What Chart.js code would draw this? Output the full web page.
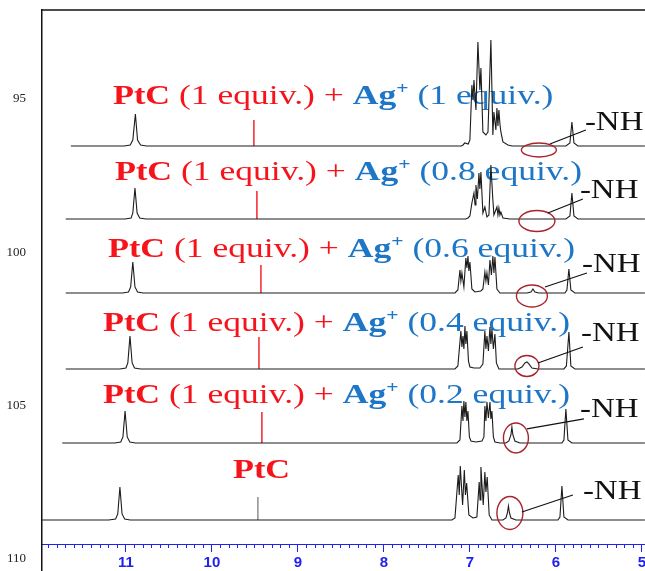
<!DOCTYPE html>
<html>
<head>
<meta charset="utf-8">
<script src="https://cdn.jsdelivr.net/npm/chart.js@4.4.1/dist/chart.umd.min.js"></script>
<style>
  body { margin: 0; background: #fff; }
  canvas { display: block; }
</style>
</head>
<body>
<canvas id="nmr" width="645" height="571"></canvas>
<script>
// equivalents of Ag+ added to PtC (null = PtC alone)
var equivs = ['1', '0.8', '0.6', '0.4', '0.2', null];

// offsets of each trace on the left (stack) axis
var baselines = [96.532, 98.913, 101.325, 103.803, 106.216, 108.727];

// red marker position (ppm) and height (a.u.)
var markShifts = [9.512, 9.477, 9.43, 9.453, 9.419, 9.465];
var markHeights = [26, 28, 28, 32, 31, 23];

// circled -NH signal (ppm)
var nhShifts = [6.198, 6.221, 6.279, 6.337, 6.465, 6.535];

// traces: [ppm, intensity a.u.]
var ag10 = [
  [11.64, 0], [11.02, 0], [10.95, 1], [10.92, 6], [10.89, 32], [10.865, 6], [10.83, 1], [10.76, 0],
  [7.10, 0], [7.08, 1], [7.06, 3], [7.02, 2], [7.00, 6], [6.977, 61], [6.965, 46], [6.953, 66], [6.93, 36],
  [6.907, 104], [6.884, 56], [6.872, 78], [6.849, 14], [6.814, 11], [6.79, 14], [6.756, 106], [6.733, 11],
  [6.721, 34], [6.698, 16], [6.686, 38], [6.674, 20], [6.663, 36], [6.651, 22], [6.64, 14], [6.616, 4],
  [6.558, 1], [6.51, 0],
  [5.884, 0], [5.837, 3], [5.814, 24], [5.79, 3], [5.744, 0], [4.965, 0]
];
var ag08 = [
  [11.70, 0], [11.01, 0], [10.94, 1], [10.92, 6], [10.895, 31], [10.87, 6], [10.84, 1], [10.77, 0],
  [7.05, 0], [7.023, 1], [7.0, 3], [6.977, 16], [6.953, 26], [6.94, 14], [6.93, 34], [6.913, 20], [6.895, 46],
  [6.884, 30], [6.872, 47], [6.849, 6], [6.826, 12], [6.802, 2], [6.779, 4], [6.756, 54], [6.733, 19],
  [6.721, 4], [6.686, 12], [6.674, 4], [6.663, 11], [6.651, 4], [6.64, 7], [6.616, 1], [6.535, 0],
  [5.884, 0], [5.837, 3], [5.814, 26], [5.79, 3], [5.744, 0], [4.965, 0]
];
var ag06 = [
  [11.70, 0], [11.04, 0], [10.97, 1], [10.945, 6], [10.92, 31], [10.895, 6], [10.865, 1], [10.80, 0],
  [7.174, 0], [7.14, 3], [7.116, 23], [7.105, 12], [7.093, 20], [7.07, 6], [7.047, 35], [7.035, 25],
  [7.023, 37], [7.012, 22], [7.0, 31], [6.977, 4], [6.942, 1], [6.872, 2], [6.849, 4], [6.826, 21],
  [6.814, 12], [6.802, 20], [6.785, 8], [6.767, 33], [6.75, 18], [6.733, 37], [6.721, 20], [6.709, 36],
  [6.686, 4], [6.651, 0],
  [6.337, 0], [6.29, 1], [6.267, 4], [6.244, 1], [6.198, 0],
  [5.895, 0], [5.872, 3], [5.849, 24], [5.826, 3], [5.779, 0], [4.965, 0]
];
var ag04 = [
  [11.70, 0], [11.07, 0], [11.0, 1], [10.978, 6], [10.953, 33], [10.928, 6], [10.9, 1], [10.83, 0],
  [7.174, 0], [7.14, 3], [7.105, 38], [7.093, 22], [7.081, 33], [7.07, 20], [7.058, 43], [7.047, 25],
  [7.035, 38], [7.017, 8], [7.0, 2], [6.953, 1], [6.884, 1], [6.849, 5], [6.826, 38], [6.814, 20],
  [6.802, 33], [6.785, 18], [6.767, 42], [6.756, 25], [6.744, 40], [6.727, 20], [6.709, 35], [6.692, 6],
  [6.663, 0],
  [6.442, 0], [6.395, 2], [6.36, 6], [6.337, 7], [6.314, 5], [6.279, 1], [6.209, 0],
  [5.907, 0], [5.878, 3], [5.849, 37], [5.826, 3], [5.779, 0], [4.965, 0]
];
var ag02 = [
  [11.74, 0], [11.13, 0], [11.06, 1], [11.035, 6], [11.01, 32], [10.985, 6], [10.955, 1], [10.89, 0],
  [7.151, 0], [7.116, 3], [7.093, 37], [7.081, 22], [7.07, 42], [7.058, 26], [7.047, 41], [7.035, 22],
  [7.023, 32], [7.006, 6], [6.988, 2], [6.93, 1], [6.86, 2], [6.837, 6], [6.826, 37], [6.814, 22],
  [6.802, 41], [6.785, 25], [6.767, 41], [6.756, 24], [6.744, 32], [6.727, 6], [6.709, 1], [6.651, 0],
  [6.581, 0], [6.547, 2], [6.523, 8], [6.512, 16], [6.5, 8], [6.477, 2], [6.419, 0],
  [5.93, 0], [5.907, 3], [5.884, 34], [5.86, 3], [5.814, 0], [4.965, 0]
];
var ptc = [
  [11.976, 0], [11.2, 0], [11.12, 1], [11.095, 6], [11.07, 33], [11.045, 6], [11.015, 1], [10.95, 0],
  [7.209, 0], [7.174, 2], [7.136, 45], [7.124, 25], [7.112, 54], [7.085, 15], [7.065, 50], [7.052, 25],
  [7.038, 37], [7.012, 5], [6.965, 2], [6.919, 3], [6.892, 38], [6.882, 20], [6.872, 53], [6.845, 15],
  [6.826, 48], [6.814, 28], [6.799, 43], [6.776, 5], [6.744, 0],
  [6.616, 0], [6.581, 2], [6.564, 7], [6.552, 14], [6.54, 7], [6.523, 2], [6.465, 0],
  [5.977, 0], [5.953, 3], [5.93, 34], [5.907, 3], [5.86, 0], [4.965, 0]
];
var traces = [ag10, ag08, ag06, ag04, ag02, ptc];

var stackTicks = [95, 100, 105, 110];
var ppmTicks = [11, 10, 9, 8, 7, 6, 5];

// display constants
var gain = 1 / 30.67;
var RED = '#f5141b';
var BLUE = '#1d76c6';
var AXISBLUE = '#2020f0';
var SERIF = "'Liberation Serif', 'DejaVu Serif', serif";
var STRETCH = 1.27;

// label placement (px): left x, height above baseline
var labelX = [113, 115, 108, 103, 103, 233];
var labelUp = [42, 39, 36, 38, 40, 42];
// ellipse / connector / text offsets (px) around the circled signal
var nhBox = [
  { dy: 4, rx: 17.5, ry: 7, l: [11, -6, 47, -20], t: [46, -20] },
  { dy: 2, rx: 18, ry: 10.5, l: [11, -8, 46, -22], t: [43, -23] },
  { dy: 3, rx: 15.5, ry: 11, l: [13, -9, 55, -23], t: [50, -24] },
  { dy: -3, rx: 12, ry: 10.5, l: [11, -3, 56, -19], t: [54, -25] },
  { dy: -5, rx: 12.5, ry: 15, l: [11, -9, 68, -19], t: [64, -21] },
  { dy: -7, rx: 13, ry: 16.5, l: [12, -1, 63, -18], t: [73, -14] }
];

var datasets = [];
traces.forEach(function (tr, i) {
  datasets.push({
    data: tr.map(function (p) { return { x: p[0], y: baselines[i] - p[1] * gain }; }),
    borderColor: '#1c1c1c',
    borderWidth: 1.1,
    pointRadius: 0,
    showLine: true,
    tension: 0
  });
  datasets.push({
    data: [
      { x: markShifts[i], y: baselines[i] },
      { x: markShifts[i], y: baselines[i] - markHeights[i] * gain }
    ],
    borderColor: i == 5 ? '#555' : RED,
    borderWidth: i == 5 ? 1 : 1.4,
    pointRadius: 0,
    showLine: true
  });
});

function drawPieces(ctx, x, y, pieces, stretch) {
  ctx.save();
  ctx.translate(x, y);
  ctx.scale(stretch || STRETCH, 1);
  ctx.textBaseline = 'alphabetic';
  ctx.textAlign = 'left';
  var cx = 0;
  pieces.forEach(function (p) {
    ctx.font = p.font;
    ctx.fillStyle = p.color;
    ctx.fillText(p.text, cx, p.dy || 0);
    cx += ctx.measureText(p.text).width;
  });
  ctx.restore();
}

// stop the axes from pushing the plot area in
function noPadding(s) {
  s.paddingTop = 0; s.paddingBottom = 0; s.paddingLeft = 0; s.paddingRight = 0;
}

var annotations = {
  id: 'annotations',
  beforeDatasetsDraw: function (chart) {
    var ctx = chart.ctx;
    var ys = chart.scales.y;
    equivs.forEach(function (eq, i) {
      var by = ys.getPixelForValue(baselines[i]) - labelUp[i];
      var pieces = [{ text: 'PtC', font: 'bold 27px ' + SERIF, color: RED }];
      if (eq) {
        pieces.push({ text: ' (1 equiv.) + ', font: '28px ' + SERIF, color: RED });
        pieces.push({ text: 'Ag', font: 'bold 28px ' + SERIF, color: BLUE });
        pieces.push({ text: '+', font: 'bold 17px ' + SERIF, color: BLUE, dy: -10 });
        pieces.push({ text: ' (' + eq + ' equiv.)', font: '28px ' + SERIF, color: BLUE });
      }
      drawPieces(ctx, labelX[i], by, pieces);
    });
  },
  afterDatasetsDraw: function (chart) {
    var ctx = chart.ctx;
    var xs = chart.scales.x, ys = chart.scales.y;
    var a = chart.chartArea;
    nhShifts.forEach(function (s, i) {
      var b = nhBox[i];
      var cx = xs.getPixelForValue(s);
      var cy = ys.getPixelForValue(baselines[i]) + b.dy;
      ctx.save();
      ctx.strokeStyle = '#a8242c';
      ctx.lineWidth = 1.4;
      ctx.beginPath();
      ctx.ellipse(cx, cy, b.rx, b.ry, 0, 0, Math.PI * 2);
      ctx.stroke();
      ctx.strokeStyle = '#111';
      ctx.lineWidth = 1.2;
      ctx.beginPath();
      ctx.moveTo(cx + b.l[0], cy + b.l[1]);
      ctx.lineTo(cx + b.l[2], cy + b.l[3]);
      ctx.stroke();
      ctx.restore();
      drawPieces(ctx, cx + b.t[0], cy + b.t[1], [{ text: '-NH', font: '27px ' + SERIF, color: '#111' }], 1.22);
    });
    // top frame line
    ctx.save();
    ctx.strokeStyle = '#111';
    ctx.lineWidth = 1.5;
    ctx.beginPath();
    ctx.moveTo(a.left - 0.75, a.top);
    ctx.lineTo(a.right, a.top);
    ctx.stroke();
    ctx.restore();
  }
};

var xPos = { y: 109.526 };

new Chart(document.getElementById('nmr'), {
  type: 'scatter',
  data: { datasets: datasets },
  options: {
    responsive: false,
    animation: false,
    events: [],
    layout: { padding: { top: 10, left: 0, right: 0, bottom: 0 } },
    plugins: { legend: { display: false }, tooltip: { enabled: false } },
    scales: {
      x: {
        type: 'linear',
        reverse: true,
        min: 4.964,
        max: 11.976,
        position: xPos,
        afterFit: noPadding,
        border: { color: AXISBLUE, width: 1 },
        grid: { drawOnChartArea: false, drawTicks: true, tickLength: 7, color: AXISBLUE, tickWidth: 1 },
        afterBuildTicks: function (s) { s.ticks = ppmTicks.map(function (v) { return { value: v }; }); },
        ticks: {
          autoSkip: false,
          maxRotation: 0,
          padding: 2,
          color: AXISBLUE,
          font: { family: "'Liberation Sans', Arial, sans-serif", size: 15, weight: 'bold' }
        }
      },
      xm: {
        type: 'linear',
        axis: 'x',
        reverse: true,
        min: 4.964,
        max: 11.976,
        position: xPos,
        afterFit: noPadding,
        border: { color: AXISBLUE, width: 1 },
        grid: { drawOnChartArea: false, drawTicks: true, tickLength: 3, color: AXISBLUE, tickWidth: 1 },
        ticks: { stepSize: 0.1, includeBounds: false, autoSkip: false, maxRotation: 0, callback: function () { return ''; } }
      },
      y: {
        type: 'linear',
        position: 'left',
        reverse: true,
        min: 92.098,
        max: 110.391,
        afterFit: function (s) { s.width = 42; noPadding(s); },
        afterBuildTicks: function (s) { s.ticks = stackTicks.map(function (v) { return { value: v }; }); },
        border: { color: '#111', width: 1.5 },
        grid: { display: false, drawTicks: false },
        ticks: {
          padding: 16,
          color: '#222',
          font: { family: SERIF, size: 13 }
        }
      }
    }
  },
  plugins: [annotations]
});
</script>
</body>
</html>
